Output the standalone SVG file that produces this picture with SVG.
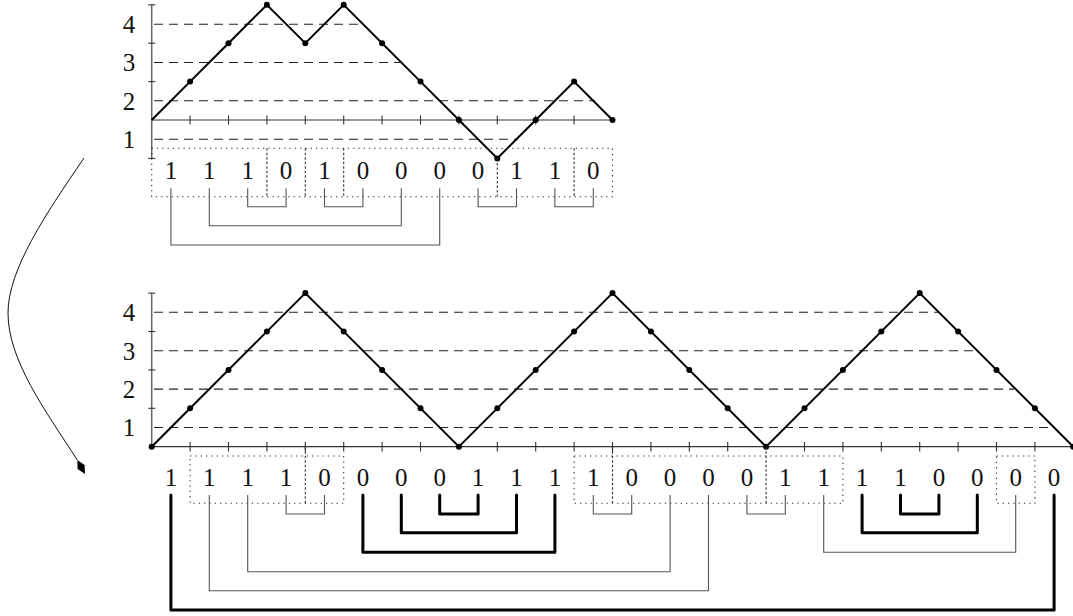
<svg xmlns="http://www.w3.org/2000/svg" width="1073" height="616" viewBox="0 0 1073 616">
<style>
.bg{fill:#fff}
.t{font-family:"Liberation Serif","DejaVu Serif",serif;font-size:25px;fill:#111;text-anchor:middle}
.path{fill:none;stroke:#000;stroke-width:2;stroke-linejoin:miter}
.axis{fill:none;stroke:#333;stroke-width:1.2}
.yaxis{fill:none;stroke:#666;stroke-width:1.5}
.tick{stroke:#333;stroke-width:1.1}
.grid{fill:none;stroke:#222;stroke-width:1.1;stroke-dasharray:9 6}
.dot{fill:#000}
.box{fill:none;stroke:#333;stroke-width:1.1;stroke-dasharray:1.3 4}
.div{fill:none;stroke:#333;stroke-width:1.1;stroke-dasharray:2.5 2}
.thin{fill:none;stroke:#555;stroke-width:1.1}
.thick{fill:none;stroke:#000;stroke-width:3;stroke-linejoin:round;stroke-linecap:round}
.arrow{fill:none;stroke:#111;stroke-width:1}
</style>
<rect class="bg" x="0" y="0" width="1073" height="616"/>

<g id="top-chart">
  <g id="top-grid">
    <line class="grid" x1="154" y1="24.3" x2="360" y2="24.3"/>
    <line class="grid" x1="154" y1="62.5" x2="400" y2="62.5"/>
    <line class="grid" x1="154" y1="100.8" x2="595" y2="100.8"/>
    <line class="grid" x1="154" y1="139.2" x2="518" y2="139.2"/>
  </g>
  <g id="top-axes">
    <line class="yaxis" x1="151.7" y1="4.8" x2="151.7" y2="158.4"/>
    <line class="tick" x1="148.2" y1="4.8" x2="155.2" y2="4.8"/>
    <line class="tick" x1="148.2" y1="43.2" x2="155.2" y2="43.2"/>
    <line class="tick" x1="148.2" y1="81.6" x2="155.2" y2="81.6"/>
    <line class="tick" x1="148.2" y1="158.4" x2="155.2" y2="158.4"/>
    <line class="axis" x1="151.7" y1="120" x2="612.5" y2="120"/>
    <path class="tick" d="M190.1,115.5V124.5M228.5,115.5V124.5M266.9,115.5V124.5M305.3,115.5V124.5M343.7,115.5V124.5M382.1,115.5V124.5M420.5,115.5V124.5M458.9,115.5V124.5M497.3,115.5V124.5M535.7,115.5V124.5M574.1,115.5V124.5"/>
    <text class="t" x="129" y="33">4</text>
    <text class="t" x="129" y="71">3</text>
    <text class="t" x="129" y="109.5">2</text>
    <text class="t" x="129" y="148">1</text>
  </g>
  <polyline class="path" points="151.7,120 190.1,81.6 228.5,43.2 266.9,4.8 305.3,43.2 343.7,4.8 382.1,43.2 420.5,81.6 458.9,120 497.3,158.4 535.7,120 574.1,81.6 612.5,120"/>
  <g id="top-dots">
    <circle class="dot" cx="190.1" cy="81.6" r="3"/>
    <circle class="dot" cx="228.5" cy="43.2" r="3"/>
    <circle class="dot" cx="266.9" cy="4.8" r="3"/>
    <circle class="dot" cx="305.3" cy="43.2" r="3"/>
    <circle class="dot" cx="343.7" cy="4.8" r="3"/>
    <circle class="dot" cx="382.1" cy="43.2" r="3"/>
    <circle class="dot" cx="420.5" cy="81.6" r="3"/>
    <circle class="dot" cx="458.9" cy="120" r="3"/>
    <circle class="dot" cx="497.3" cy="158.4" r="3"/>
    <circle class="dot" cx="535.7" cy="120" r="3"/>
    <circle class="dot" cx="574.1" cy="81.6" r="3"/>
    <circle class="dot" cx="612.5" cy="120" r="3"/>
  </g>
</g>

<g id="top-word">
  <rect class="box" x="151.7" y="148.3" width="460.8" height="48.4"/>
  <path class="div" d="M266.9,148.3V196.7M305.3,148.3V196.7M343.7,148.3V196.7M497.3,158.4V196.7M574.1,148.3V196.7"/>
  <text class="t" x="170.9" y="179">1</text>
  <text class="t" x="209.3" y="179">1</text>
  <text class="t" x="247.7" y="179">1</text>
  <text class="t" x="286.1" y="179">0</text>
  <text class="t" x="324.5" y="179">1</text>
  <text class="t" x="362.9" y="179">0</text>
  <text class="t" x="401.3" y="179">0</text>
  <text class="t" x="439.7" y="179">0</text>
  <text class="t" x="478.1" y="179">0</text>
  <text class="t" x="516.5" y="179">1</text>
  <text class="t" x="554.9" y="179">1</text>
  <text class="t" x="593.3" y="179">0</text>
</g>

<g id="top-matching">
  <polyline class="thin" points="170.9,188.3 170.9,245 439.7,245 439.7,188.3"/>
  <polyline class="thin" points="209.3,188.3 209.3,225.7 401.3,225.7 401.3,188.3"/>
  <polyline class="thin" points="247.7,188.3 247.7,206.7 286.1,206.7 286.1,188.3"/>
  <polyline class="thin" points="324.5,188.3 324.5,206.7 362.9,206.7 362.9,188.3"/>
  <polyline class="thin" points="478.1,188.3 478.1,206.7 516.5,206.7 516.5,188.3"/>
  <polyline class="thin" points="554.9,188.3 554.9,206.7 593.3,206.7 593.3,188.3"/>
</g>

<g id="connector">
  <path class="arrow" d="M84,158 C45,215 8,270 8,313 C8,360 45,410 77.3,460"/>
  <polygon fill="#000" points="85,474 84.6,465.1 77.3,460 77.6,469"/>
</g>

<g id="bottom-chart">
  <g id="bottom-grid">
    <line class="grid" x1="154" y1="312.3" x2="938" y2="312.3"/>
    <line class="grid" x1="154" y1="350.7" x2="976" y2="350.7"/>
    <line class="grid" x1="154" y1="389.1" x2="1014" y2="389.1"/>
    <line class="grid" x1="154" y1="427.5" x2="1050" y2="427.5"/>
  </g>
  <g id="bottom-axes">
    <line class="yaxis" x1="151.7" y1="293.1" x2="151.7" y2="446.7"/>
    <line class="tick" x1="148.2" y1="293.1" x2="155.2" y2="293.1"/>
    <line class="tick" x1="148.2" y1="331.5" x2="155.2" y2="331.5"/>
    <line class="tick" x1="148.2" y1="369.9" x2="155.2" y2="369.9"/>
    <line class="tick" x1="148.2" y1="408.3" x2="155.2" y2="408.3"/>
    <line class="axis" x1="151.7" y1="446.7" x2="1073" y2="446.7"/>
    <path class="tick" d="M190.1,442V451.4M228.5,442V451.4M266.9,442V451.4M305.3,442V451.4M343.7,442V451.4M382.1,442V451.4M420.5,442V451.4M497.3,442V451.4M535.7,442V451.4M574.1,442V451.4M612.5,442V451.4M650.9,442V451.4M689.3,442V451.4M727.7,442V451.4M804.5,442V451.4M842.9,442V451.4M881.3,442V451.4M919.7,442V451.4M958.1,442V451.4M996.5,442V451.4M1034.9,442V451.4"/>
    <text class="t" x="129" y="321">4</text>
    <text class="t" x="129" y="359.5">3</text>
    <text class="t" x="129" y="398">2</text>
    <text class="t" x="129" y="436">1</text>
  </g>
  <polyline class="path" points="151.7,446.7 305.3,293.1 458.9,446.7 612.5,293.1 766.1,446.7 919.7,293.1 1073.3,446.7"/>
  <g id="bottom-dots">
    <circle class="dot" cx="151.7" cy="446.7" r="3"/>
    <circle class="dot" cx="190.1" cy="408.3" r="3"/>
    <circle class="dot" cx="228.5" cy="369.9" r="3"/>
    <circle class="dot" cx="266.9" cy="331.5" r="3"/>
    <circle class="dot" cx="305.3" cy="293.1" r="3"/>
    <circle class="dot" cx="343.7" cy="331.5" r="3"/>
    <circle class="dot" cx="382.1" cy="369.9" r="3"/>
    <circle class="dot" cx="420.5" cy="408.3" r="3"/>
    <circle class="dot" cx="458.9" cy="446.7" r="3"/>
    <circle class="dot" cx="497.3" cy="408.3" r="3"/>
    <circle class="dot" cx="535.7" cy="369.9" r="3"/>
    <circle class="dot" cx="574.1" cy="331.5" r="3"/>
    <circle class="dot" cx="612.5" cy="293.1" r="3"/>
    <circle class="dot" cx="650.9" cy="331.5" r="3"/>
    <circle class="dot" cx="689.3" cy="369.9" r="3"/>
    <circle class="dot" cx="727.7" cy="408.3" r="3"/>
    <circle class="dot" cx="766.1" cy="446.7" r="3"/>
    <circle class="dot" cx="804.5" cy="408.3" r="3"/>
    <circle class="dot" cx="842.9" cy="369.9" r="3"/>
    <circle class="dot" cx="881.3" cy="331.5" r="3"/>
    <circle class="dot" cx="919.7" cy="293.1" r="3"/>
    <circle class="dot" cx="958.1" cy="331.5" r="3"/>
    <circle class="dot" cx="996.5" cy="369.9" r="3"/>
    <circle class="dot" cx="1034.9" cy="408.3" r="3"/>
    <circle class="dot" cx="1073.3" cy="446.7" r="3"/>
  </g>
</g>

<g id="bottom-word">
  <rect class="box" x="190.1" y="456" width="153.6" height="47.3"/>
  <rect class="box" x="574.1" y="456" width="268.8" height="47.3"/>
  <rect class="box" x="996.5" y="456" width="38.4" height="47.3"/>
  <path class="div" d="M305.3,446.7V503.3M612.5,446.7V503.3M766.1,446.7V503.3"/>
  <text class="t" x="170.9" y="485.5">1</text>
  <text class="t" x="209.3" y="485.5">1</text>
  <text class="t" x="247.7" y="485.5">1</text>
  <text class="t" x="286.1" y="485.5">1</text>
  <text class="t" x="324.5" y="485.5">0</text>
  <text class="t" x="362.9" y="485.5">0</text>
  <text class="t" x="401.3" y="485.5">0</text>
  <text class="t" x="439.7" y="485.5">0</text>
  <text class="t" x="478.1" y="485.5">1</text>
  <text class="t" x="516.5" y="485.5">1</text>
  <text class="t" x="554.9" y="485.5">1</text>
  <text class="t" x="593.3" y="485.5">1</text>
  <text class="t" x="631.7" y="485.5">0</text>
  <text class="t" x="670.1" y="485.5">0</text>
  <text class="t" x="708.5" y="485.5">0</text>
  <text class="t" x="746.9" y="485.5">0</text>
  <text class="t" x="785.3" y="485.5">1</text>
  <text class="t" x="823.7" y="485.5">1</text>
  <text class="t" x="862.1" y="485.5">1</text>
  <text class="t" x="900.5" y="485.5">1</text>
  <text class="t" x="938.9" y="485.5">0</text>
  <text class="t" x="977.3" y="485.5">0</text>
  <text class="t" x="1015.7" y="485.5">0</text>
  <text class="t" x="1054.1" y="485.5">0</text>
</g>

<g id="bottom-matching">
  <polyline class="thin" points="209.3,495 209.3,590.7 708.5,590.7 708.5,495"/>
  <polyline class="thin" points="247.7,495 247.7,571.7 670.1,571.7 670.1,495"/>
  <polyline class="thin" points="286.1,495 286.1,514 324.5,514 324.5,495"/>
  <polyline class="thin" points="593.3,495 593.3,514 631.7,514 631.7,495"/>
  <polyline class="thin" points="746.9,495 746.9,514 785.3,514 785.3,495"/>
  <polyline class="thin" points="823.7,495 823.7,552.3 1015.7,552.3 1015.7,495"/>
  <polyline class="thick" points="170.9,495 170.9,610 1054.1,610 1054.1,495"/>
  <polyline class="thick" points="362.9,495 362.9,552.3 554.9,552.3 554.9,495"/>
  <polyline class="thick" points="401.3,495 401.3,532.7 516.5,532.7 516.5,495"/>
  <polyline class="thick" points="439.7,495 439.7,514 478.1,514 478.1,495"/>
  <polyline class="thick" points="862.1,495 862.1,532.7 977.3,532.7 977.3,495"/>
  <polyline class="thick" points="900.5,495 900.5,514 938.9,514 938.9,495"/>
</g>
</svg>
